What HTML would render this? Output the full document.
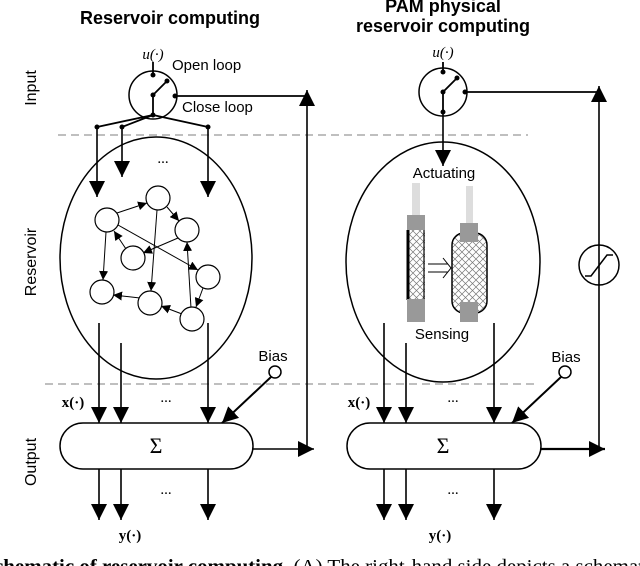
<!DOCTYPE html>
<html><head><meta charset="utf-8"><style>body{margin:0;background:#fff}svg{display:block}</style></head><body>
<svg width="640" height="566" viewBox="0 0 640 566" xmlns="http://www.w3.org/2000/svg" font-family="Liberation Sans, sans-serif">
<defs>
<marker id="a" viewBox="0 0 10 10" refX="10" refY="5" markerWidth="9" markerHeight="9" markerUnits="userSpaceOnUse" orient="auto"><path d="M0,0L10,5L0,10z"/></marker>
<marker id="A" viewBox="0 0 10 10" refX="10" refY="5" markerWidth="16" markerHeight="16" markerUnits="userSpaceOnUse" orient="auto"><path d="M0,0L10,5L0,10z"/></marker>
<pattern id="h" width="7" height="7" patternUnits="userSpaceOnUse"><path d="M0,0L7,7M7,0L0,7" stroke="#777" stroke-width="0.7"/></pattern>
</defs>
<text x="170" y="24" font-size="18" font-weight="bold" text-anchor="middle">Reservoir computing</text>
<text x="443" y="12" font-size="18" font-weight="bold" text-anchor="middle">PAM physical</text>
<text x="443" y="32" font-size="18" font-weight="bold" text-anchor="middle">reservoir computing</text>
<g font-size="16" text-anchor="middle">
<text transform="translate(36,88) rotate(-90)">Input</text>
<text transform="translate(36,262) rotate(-90)">Reservoir</text>
<text transform="translate(36,462) rotate(-90)">Output</text>
</g>
<g stroke="#999" stroke-dasharray="8,5" stroke-width="1.3">
<line x1="58" y1="135" x2="528" y2="135"/>
<line x1="45" y1="384" x2="536" y2="384"/>
</g>
<g fill="none" stroke="#000" stroke-width="1.5">
<ellipse cx="156" cy="258" rx="96" ry="121"/>
<ellipse cx="443" cy="262" rx="97" ry="120"/>
<circle cx="153" cy="95" r="24"/>
<circle cx="443" cy="92" r="24"/>
<rect x="60" y="423" width="193" height="46" rx="23"/>
<rect x="347" y="423" width="194" height="46" rx="23"/>
<circle cx="275" cy="372" r="6" fill="#fff"/>
<circle cx="565" cy="372" r="6" fill="#fff"/>
<circle cx="599" cy="265" r="20" fill="#fff"/>
<path d="M585,276L591,276L607,255L613,255"/>
</g>
<g stroke="#000" stroke-width="1.8" fill="none">
<path d="M153,62V75M153,95L167,81M153,95V115"/>
<path d="M443,62V72M443,92L457,78M443,92V112"/>
<path d="M153,115L97,127M153,115L122,127M153,115L208,127"/>
<path d="M175,96H307M465,92H599"/>
</g>
<g>
<circle cx="153" cy="75" r="2.5"/><circle cx="153" cy="95" r="2.5"/><circle cx="167" cy="81" r="2.5"/><circle cx="175" cy="96" r="2.5"/><circle cx="153" cy="115" r="2.5"/>
<circle cx="97" cy="127" r="2.5"/><circle cx="122" cy="127" r="2.5"/><circle cx="208" cy="127" r="2.5"/>
<circle cx="443" cy="72" r="2.5"/><circle cx="443" cy="92" r="2.5"/><circle cx="457" cy="78" r="2.5"/><circle cx="465" cy="92" r="2.5"/><circle cx="443" cy="112" r="2.5"/>
</g>
<g stroke="#000" stroke-width="1.6" marker-end="url(#A)">
<line x1="97" y1="127" x2="97" y2="197"/>
<line x1="122" y1="127" x2="122" y2="177"/>
<line x1="208" y1="127" x2="208" y2="197"/>
<line x1="443" y1="112" x2="443" y2="166"/>
<line x1="307" y1="449" x2="307" y2="90"/>
<line x1="599" y1="449" x2="599" y2="86"/>
<line x1="253" y1="449" x2="314" y2="449"/>
<line x1="541" y1="449" x2="605" y2="449" stroke-width="2.2"/>
<line x1="99" y1="323" x2="99" y2="423"/>
<line x1="121" y1="343" x2="121" y2="423"/>
<line x1="208" y1="323" x2="208" y2="423"/>
<line x1="384" y1="323" x2="384" y2="423"/>
<line x1="406" y1="343" x2="406" y2="423"/>
<line x1="494" y1="323" x2="494" y2="423"/>
<line x1="271" y1="377" x2="222" y2="423" stroke-width="2"/>
<line x1="561" y1="377" x2="512" y2="423" stroke-width="2"/>
<line x1="99" y1="469" x2="99" y2="520"/>
<line x1="121" y1="469" x2="121" y2="520"/>
<line x1="208" y1="469" x2="208" y2="520"/>
<line x1="384" y1="469" x2="384" y2="520"/>
<line x1="406" y1="469" x2="406" y2="520"/>
<line x1="494" y1="469" x2="494" y2="520"/>
</g>
<g stroke="#000" stroke-width="1" marker-end="url(#a)">
<line x1="117" y1="213" x2="147" y2="203"/>
<line x1="167" y1="207" x2="179" y2="221"/>
<line x1="118" y1="225" x2="198" y2="270"/>
<line x1="178" y1="238" x2="143" y2="253"/>
<line x1="126" y1="249" x2="114" y2="231"/>
<line x1="106" y1="232" x2="103" y2="280"/>
<line x1="157" y1="210" x2="151" y2="291"/>
<line x1="191" y1="308" x2="187" y2="242"/>
<line x1="203" y1="288" x2="196" y2="307"/>
<line x1="140" y1="298" x2="113" y2="295"/>
<line x1="182" y1="314" x2="161" y2="306"/>
</g>
<g fill="#fff" stroke="#000" stroke-width="1.2">
<circle cx="107" cy="220" r="12"/><circle cx="158" cy="198" r="12"/><circle cx="187" cy="230" r="12"/><circle cx="133" cy="258" r="12"/>
<circle cx="208" cy="277" r="12"/><circle cx="102" cy="292" r="12"/><circle cx="150" cy="303" r="12"/><circle cx="192" cy="319" r="12"/>
</g>
<rect x="412" y="183" width="8" height="32" fill="#ddd"/>
<rect x="466" y="186" width="7" height="37" fill="#ddd"/>
<rect x="407" y="230" width="18" height="70" fill="url(#h)"/>
<line x1="408" y1="230" x2="408" y2="300" stroke="#000" stroke-width="3"/>
<line x1="424" y1="230" x2="424" y2="300" stroke="#000" stroke-width="1.2"/>
<rect x="452" y="233" width="35" height="80" rx="12" fill="url(#h)" stroke="#000" stroke-width="1.5"/>
<g fill="#999"><rect x="407" y="215" width="18" height="15"/><rect x="407" y="299" width="18" height="23"/><rect x="460" y="223" width="18" height="19"/><rect x="460" y="302" width="18" height="20"/></g>
<path d="M428,264H448M428,272H448M443,258L451,268L443,278" fill="none" stroke="#000" stroke-width="1"/>
<g font-size="15">
<text x="444" y="178" text-anchor="middle">Actuating</text>
<text x="442" y="339" text-anchor="middle">Sensing</text>
<text x="273" y="361" text-anchor="middle">Bias</text>
<text x="566" y="362" text-anchor="middle">Bias</text>
<text x="172" y="70">Open loop</text>
<text x="182" y="112">Close loop</text>
</g>
<g font-family="Liberation Serif, serif" font-size="15" text-anchor="middle">
<text x="153" y="59" font-style="italic">u(·)</text>
<text x="443" y="57" font-style="italic">u(·)</text>
<text x="73" y="407" font-weight="bold">x(·)</text>
<text x="359" y="407" font-weight="bold">x(·)</text>
<text x="130" y="540" font-weight="bold">y(·)</text>
<text x="440" y="540" font-weight="bold">y(·)</text>
<text x="156" y="453" font-size="22">Σ</text>
<text x="443" y="453" font-size="22">Σ</text>
<text x="166" y="402">...</text><text x="453" y="402">...</text>
<text x="166" y="494">...</text><text x="453" y="494">...</text>
<text x="163" y="163">...</text>
</g>
<text x="-6" y="573" font-family="Liberation Serif, serif" font-size="20.5" textLength="650" lengthAdjust="spacingAndGlyphs"><tspan font-weight="bold">chematic of reservoir computing.</tspan> (A) The right-hand side depicts a schemat</text>
</svg>
</body></html>
